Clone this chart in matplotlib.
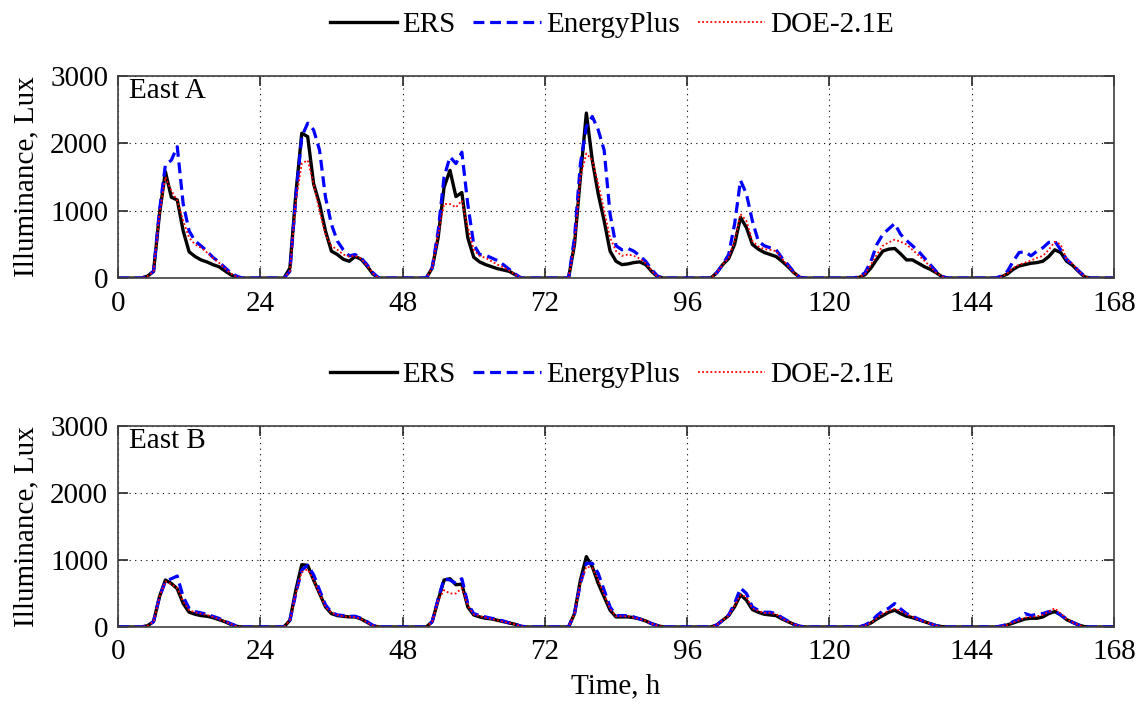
import numpy as np
import matplotlib
matplotlib.use('Agg')
import matplotlib.pyplot as plt

plt.rcParams['font.family'] = ['Liberation Serif', 'DejaVu Serif']

# daytime values (lux) for local hours 4..21 of each of the 7 days, zero otherwise
FIRST_HOUR = 4
ers_a = [
    [0, 30, 100, 950, 1580, 1200, 1160, 700, 390, 320, 270, 240, 200, 170, 110, 50, 10, 0],
    [0, 150, 1250, 2150, 2100, 1400, 1100, 700, 400, 350, 280, 250, 320, 280, 180, 60, 0, 0],
    [0, 150, 600, 1350, 1600, 1210, 1270, 600, 310, 240, 200, 170, 140, 120, 100, 50, 0, 0],
    [0, 500, 1500, 2450, 1750, 1250, 850, 400, 250, 200, 210, 230, 240, 200, 100, 20, 0, 0],
    [0, 80, 200, 290, 500, 900, 750, 500, 430, 380, 350, 320, 250, 170, 80, 10, 0, 0],
    [0, 10, 50, 150, 280, 400, 430, 440, 360, 270, 270, 220, 170, 130, 80, 20, 0, 0],
    [0, 20, 60, 130, 180, 200, 220, 230, 250, 320, 420, 380, 250, 190, 100, 20, 0, 0],
]
eplus_a = [
    [0, 30, 100, 1000, 1680, 1750, 1950, 1100, 700, 550, 480, 400, 310, 240, 160, 80, 30, 0],
    [0, 100, 1200, 2100, 2300, 2200, 1900, 1200, 800, 550, 420, 330, 350, 300, 200, 80, 0, 0],
    [0, 150, 700, 1500, 1800, 1700, 1870, 1100, 500, 350, 340, 300, 260, 200, 130, 60, 0, 0],
    [0, 600, 1700, 2250, 2400, 2200, 1900, 950, 480, 420, 440, 400, 330, 250, 130, 30, 0, 0],
    [0, 80, 200, 350, 800, 1450, 1250, 850, 550, 480, 450, 420, 300, 200, 90, 10, 0, 0],
    [0, 20, 80, 250, 500, 650, 730, 810, 650, 560, 480, 400, 300, 200, 100, 20, 0, 0],
    [0, 30, 100, 250, 380, 390, 330, 400, 450, 530, 550, 420, 280, 200, 110, 30, 0, 0],
]
doe_a = [
    [0, 30, 100, 950, 1500, 1300, 1150, 850, 600, 500, 450, 380, 300, 230, 150, 70, 20, 0],
    [0, 100, 1150, 1700, 1750, 1400, 1000, 650, 480, 420, 350, 320, 330, 290, 190, 70, 0, 0],
    [0, 150, 650, 1100, 1100, 1050, 1150, 750, 420, 330, 300, 250, 200, 160, 110, 50, 0, 0],
    [0, 500, 1500, 1850, 1750, 1400, 1000, 600, 400, 330, 350, 330, 290, 220, 110, 25, 0, 0],
    [0, 80, 200, 300, 550, 950, 850, 550, 470, 430, 420, 400, 290, 180, 80, 10, 0, 0],
    [0, 10, 60, 200, 350, 480, 530, 570, 540, 500, 420, 340, 260, 170, 80, 20, 0, 0],
    [0, 20, 70, 150, 200, 230, 260, 300, 330, 420, 540, 500, 280, 210, 110, 25, 0, 0],
]

ers_b = [
    [0, 20, 80, 450, 700, 650, 570, 350, 220, 190, 170, 160, 140, 110, 80, 40, 10, 0],
    [0, 100, 550, 930, 920, 700, 500, 300, 200, 170, 160, 150, 150, 120, 70, 20, 0, 0],
    [0, 80, 400, 700, 720, 630, 640, 300, 180, 150, 130, 120, 100, 80, 60, 40, 10, 0],
    [0, 200, 700, 1050, 900, 650, 450, 250, 150, 150, 150, 140, 120, 90, 50, 20, 0, 0],
    [0, 30, 100, 170, 300, 480, 400, 260, 220, 190, 180, 170, 120, 80, 40, 10, 0, 0],
    [0, 0, 20, 60, 120, 170, 220, 250, 200, 160, 140, 110, 80, 50, 20, 5, 0, 0],
    [0, 10, 30, 60, 90, 120, 130, 130, 150, 200, 230, 180, 110, 70, 30, 5, 0, 0],
]
eplus_b = [
    [0, 20, 80, 450, 680, 720, 760, 450, 280, 230, 210, 190, 160, 130, 90, 50, 15, 0],
    [0, 100, 500, 850, 920, 780, 550, 330, 220, 180, 170, 160, 160, 130, 80, 25, 0, 0],
    [0, 80, 420, 720, 700, 650, 720, 350, 200, 170, 150, 130, 110, 90, 60, 40, 10, 0],
    [0, 200, 650, 950, 950, 800, 550, 300, 170, 170, 170, 150, 120, 90, 50, 20, 0, 0],
    [0, 30, 100, 180, 350, 580, 500, 300, 250, 220, 220, 200, 140, 90, 40, 10, 0, 0],
    [0, 0, 30, 80, 170, 240, 280, 350, 270, 200, 160, 120, 80, 50, 20, 0, 0, 0],
    [0, 15, 40, 80, 120, 200, 170, 190, 200, 230, 240, 180, 120, 70, 30, 0, 0, 0],
]
doe_b = [
    [0, 20, 80, 450, 680, 640, 580, 380, 250, 220, 200, 180, 150, 120, 85, 45, 10, 0],
    [0, 100, 500, 820, 860, 700, 500, 300, 210, 180, 160, 150, 150, 120, 70, 20, 0, 0],
    [0, 80, 400, 550, 500, 500, 580, 320, 190, 160, 140, 120, 100, 80, 60, 40, 10, 0],
    [0, 200, 650, 900, 880, 700, 480, 270, 160, 160, 160, 140, 120, 90, 50, 20, 0, 0],
    [0, 30, 100, 170, 320, 480, 450, 280, 240, 210, 210, 190, 130, 80, 40, 10, 0, 0],
    [0, 0, 20, 60, 130, 200, 240, 270, 240, 190, 150, 110, 80, 50, 20, 0, 0, 0],
    [0, 10, 30, 70, 100, 140, 150, 160, 180, 230, 280, 200, 120, 70, 30, 0, 0, 0],
]

panel_names = ['East A', 'East B']
series_names = ['ERS', 'EnergyPlus', 'DOE-2.1E']
x_ticks = [0, 24, 48, 72, 96, 120, 144, 168]
y_ticks = [0, 1000, 2000, 3000]


def week(days):
    out = []
    for d in days:
        out += [0] * FIRST_HOUR + list(d) + [0] * (24 - FIRST_HOUR - len(d))
    return np.array(out + [0], dtype=float)


hours = np.arange(0, 169)
FS = 21

fig = plt.figure(figsize=(11.42, 7.04), dpi=100, facecolor='white')
ax_top = fig.add_axes([0.1033, 0.605, 0.8722, 0.287])
ax_bot = fig.add_axes([0.1033, 0.1094, 0.8722, 0.2856])

styles = [dict(color='black', ls='-', lw=2.4),
          dict(color='#0000ff', ls=(0, (3.4, 1.8)), lw=2.3),
          dict(color='#ff0000', ls=(0, (1, 1.3)), lw=1.3)]

for ax, name, data in [(ax_top, panel_names[0], [ers_a, eplus_a, doe_a]),
                       (ax_bot, panel_names[1], [ers_b, eplus_b, doe_b])]:
    lines = []
    for s, lab, st in zip(data, series_names, styles):
        ln, = ax.plot(hours, week(s), label=lab, **st)
        lines.append(ln)
    ax.set_xlim(0, 168)
    ax.set_ylim(0, 3000)
    ax.set_xticks(x_ticks)
    ax.set_yticks(y_ticks)
    ax.grid(True, color='black', ls=(0, (1, 4)), lw=0.8)
    ax.tick_params(direction='in', length=7, width=1.2, top=True, right=True,
                   labelsize=FS, colors='#262626', labelcolor='black')
    ax.tick_params(axis='y', pad=7)
    ax.tick_params(axis='x', pad=9)
    for sp in ax.spines.values():
        sp.set_color('#404040')
        sp.set_linewidth(1.2)
    ax.set_ylabel('Illuminance, Lux', fontsize=FS, labelpad=8)
    ax.text(0.011, 0.99, name, transform=ax.transAxes, fontsize=FS, va='top', ha='left')
    ax.legend(handles=lines, loc='lower center', bbox_to_anchor=(0.496, 1.13), ncol=3,
              frameon=False, fontsize=FS, handlelength=2.3, handletextpad=0.2,
              columnspacing=0.6, borderaxespad=0)

ax_bot.set_xlabel('Time, h', fontsize=FS, labelpad=6)

fig.savefig('out.png', dpi=100, facecolor='white')
